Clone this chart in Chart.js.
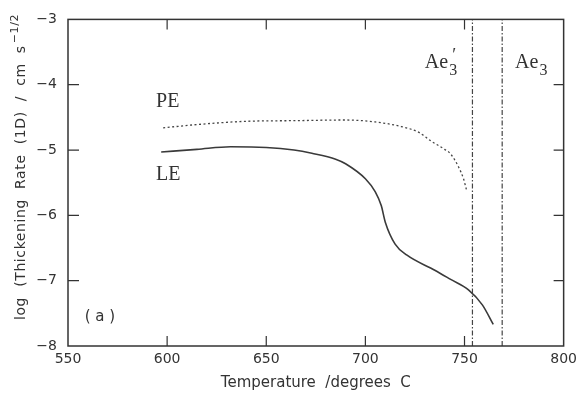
<!DOCTYPE html>
<html>
<head>
<meta charset="utf-8">
<script src="https://cdn.jsdelivr.net/npm/chart.js@4"></script>
<style>
  html, body { margin: 0; padding: 0; background: #ffffff; }
  #wrap { width: 582px; height: 395px; }
</style>
</head>
<body>
<div id="wrap"><canvas id="rateChart" width="582" height="395"></canvas></div>
<script>
// log(thickening rate) vs temperature, PE (dotted) and LE (solid), with Ae3' and Ae3 marked

const X_TICKS = [550, 600, 650, 700, 750, 800];
const Y_TICKS = [-8, -7, -6, -5, -4, -3];

const PE_TEMPS = [598, 615, 640, 665, 690, 705, 718, 727, 733, 740, 743, 747, 749.5, 751];
const PE_RATES = [-4.66, -4.61, -4.56, -4.55, -4.54, -4.57, -4.64, -4.73, -4.86, -4.99, -5.06, -5.26, -5.44, -5.61];

const LE_TEMPS = [597, 615, 632, 650, 664, 673, 685, 690, 700, 705, 708, 710, 715, 721, 735, 743, 752, 759, 764.5];
const LE_RATES = [-5.03, -4.99, -4.95, -4.96, -5.0, -5.05, -5.14, -5.21, -5.44, -5.64, -5.85, -6.1, -6.44, -6.61, -6.84, -6.98, -7.14, -7.37, -7.67];

// vertical reference temperatures
const AE3_PRIME_TEMP = 754;
const AE3_TEMP = 769;

const INK = "#333333";

function zipPoints(xs, ys) {
    return xs.map((x, i) => ({ x: x, y: ys[i] }));
}

function verticalLine(temp) {
    return [{ x: temp, y: Y_TICKS[0] }, { x: temp, y: Y_TICKS[Y_TICKS.length - 1] }];
}

// box round the plot with inward ticks, like the original figure
const frameTicks = {
    id: "frameTicks",
    afterDatasetsDraw(chart) {
        const { ctx, chartArea: a, scales } = chart;
        ctx.save();
        ctx.strokeStyle = INK;
        ctx.lineWidth = 1.5;
        ctx.strokeRect(a.left, a.top, a.right - a.left, a.bottom - a.top);
        ctx.lineWidth = 1.2;
        ctx.beginPath();
        X_TICKS.slice(1, -1).forEach((v) => {
            const px = scales.x.getPixelForValue(v);
            ctx.moveTo(px, a.bottom); ctx.lineTo(px, a.bottom - 10);
            ctx.moveTo(px, a.top); ctx.lineTo(px, a.top + 10);
        });
        Y_TICKS.slice(1, -1).forEach((v) => {
            const py = scales.y.getPixelForValue(v);
            ctx.moveTo(a.left, py); ctx.lineTo(a.left + 11, py);
            ctx.moveTo(a.right, py); ctx.lineTo(a.right - 10, py);
        });
        ctx.stroke();
        ctx.restore();
    }
};

// y title needs a superscript, so it is drawn here
const yTitle = {
    id: "yTitle",
    afterDraw(chart) {
        const { ctx } = chart;
        const main = "log  (Thickening  Rate  (1D)  /  cm  s";
        const sup = "\u22121/2";
        ctx.save();
        ctx.fillStyle = INK;
        ctx.letterSpacing = "0.6px";
        ctx.font = "14px 'DejaVu Sans'";
        const wMain = ctx.measureText(main).width;
        ctx.font = "11px 'DejaVu Sans'";
        const wSup = ctx.measureText(sup).width;
        const total = wMain + wSup + 2;
        ctx.translate(25, 167);
        ctx.rotate(-Math.PI / 2);
        ctx.textBaseline = "alphabetic";
        ctx.font = "14px 'DejaVu Sans'";
        ctx.fillText(main, -total / 2, 0);
        ctx.font = "11px 'DejaVu Sans'";
        ctx.fillText(sup, -total / 2 + wMain + 2, -7);
        ctx.restore();
    }
};

// text labels placed in data units
const LABELS = [
    { text: "PE", x: 594.4, y: -4.34 },
    { text: "LE", x: 594.4, y: -5.46 },
    { text: "Ae", sub: "3", prime: true, x: 730, y: -3.75 },
    { text: "Ae", sub: "3", x: 775.5, y: -3.75 }
];

const textLabels = {
    id: "textLabels",
    afterDraw(chart) {
        const { ctx, scales } = chart;
        ctx.save();
        ctx.fillStyle = INK;
        ctx.textBaseline = "alphabetic";
        LABELS.forEach((lab) => {
            const px = scales.x.getPixelForValue(lab.x);
            const py = scales.y.getPixelForValue(lab.y);
            ctx.font = "20px 'Liberation Serif'";
            ctx.fillText(lab.text, px, py);
            if (lab.sub) {
                const w = ctx.measureText(lab.text).width;
                ctx.font = "16px 'Liberation Serif'";
                ctx.fillText(lab.sub, px + w + 1, py + 7);
                if (lab.prime) {
                    ctx.font = "18px 'Liberation Serif'";
                    ctx.fillText("\u2032", px + w + 4, py - 7);
                }
            }
        });
        ctx.font = "15px 'DejaVu Sans'";
        ctx.textBaseline = "middle";
        const ax = scales.x.getPixelForValue(558.4);
        const ay = scales.y.getPixelForValue(-7.56);
        ctx.fillText("( a )", ax, ay);
        ctx.restore();
    }
};

const ctx = document.getElementById("rateChart");
new Chart(ctx, {
    type: "line",
    data: {
        datasets: [
            {
                label: "PE",
                data: zipPoints(PE_TEMPS, PE_RATES),
                borderColor: "#444444",
                borderWidth: 1.3,
                borderDash: [2, 2.5],
                pointRadius: 0,
                cubicInterpolationMode: "monotone"
            },
            {
                label: "LE",
                data: zipPoints(LE_TEMPS, LE_RATES),
                borderColor: "#3a3a3a",
                borderWidth: 1.6,
                pointRadius: 0,
                cubicInterpolationMode: "monotone"
            },
            {
                label: "Ae3'",
                data: verticalLine(AE3_PRIME_TEMP),
                borderColor: "#444444",
                borderWidth: 1.2,
                borderDash: [5, 2, 1.5, 2],
                pointRadius: 0
            },
            {
                label: "Ae3",
                data: verticalLine(AE3_TEMP),
                borderColor: "#444444",
                borderWidth: 1.2,
                borderDash: [5, 2, 1.5, 2],
                pointRadius: 0
            }
        ]
    },
    options: {
        responsive: false,
        animation: false,
        layout: { padding: { top: 13, right: 7, left: 0, bottom: 0 } },
        plugins: {
            legend: { display: false },
            tooltip: { enabled: false }
        },
        scales: {
            x: {
                type: "linear",
                min: X_TICKS[0],
                max: X_TICKS[X_TICKS.length - 1],
                afterBuildTicks: (scale) => { scale.ticks = X_TICKS.map((v) => ({ value: v })); },
                afterFit: (scale) => { scale.height = 49; },
                grid: { display: false, drawTicks: false },
                border: { display: false },
                ticks: {
                    padding: 5,
                    color: INK,
                    font: { family: "DejaVu Sans", size: 14 },
                    maxRotation: 0,
                    autoSkip: false
                },
                title: {
                    display: true,
                    text: "Temperature  /degrees  C",
                    color: INK,
                    font: { family: "DejaVu Sans", size: 15 },
                    padding: { top: 0, bottom: 3 }
                }
            },
            y: {
                type: "linear",
                min: Y_TICKS[0],
                max: Y_TICKS[Y_TICKS.length - 1],
                afterBuildTicks: (scale) => { scale.ticks = Y_TICKS.map((v) => ({ value: v })); },
                afterFit: (scale) => { scale.width = 68; },
                grid: { display: false, drawTicks: false },
                border: { display: false },
                ticks: {
                    padding: 11,
                    color: INK,
                    font: { family: "DejaVu Sans", size: 14 },
                    callback: (v) => (v < 0 ? "\u2212" + Math.abs(v) : String(v))
                }
            }
        }
    },
    plugins: [frameTicks, yTitle, textLabels]
});
</script>
</body>
</html>
